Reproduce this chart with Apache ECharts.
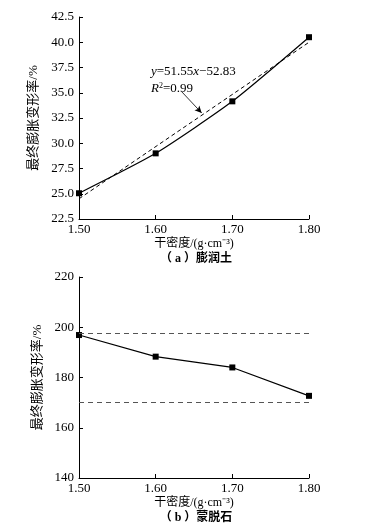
<!DOCTYPE html>
<html><head><meta charset="utf-8">
<script src="https://cdn.jsdelivr.net/npm/echarts@6/dist/echarts.min.js"></script>
<style>html,body{margin:0;padding:0;background:#fff}#c{width:367px;height:532px}</style>
</head><body><div id="c"></div>
<script>
// Data
const density = [1.50, 1.60, 1.70, 1.80];
const bentonite = [25.05, 29.0, 34.15, 40.5];
const bentoniteFit = [[1.50, 24.5], [1.80, 40.0]];
const montmorillonite = [196.9, 188.3, 184.0, 172.7];
const montRefLines = [197.6, 170.0];
const xTicks = [1.50, 1.60, 1.70, 1.80];
const yTicksA = [22.5, 25.0, 27.5, 30.0, 32.5, 35.0, 37.5, 40.0, 42.5];
const yTicksB = [140, 160, 180, 200, 220];
const arrowA = [[1.634, 35.1], [1.66, 33.0]];

const numFont = '"Liberation Serif","DejaVu Serif",serif';
const cjkFont = '"Liberation Serif","Noto Sans CJK SC",serif';
const ink = '#000';

function xAxis(gi) {
  return {
    type: 'value', gridIndex: gi, min: 1.5, max: 1.8, interval: 0.1,
    axisLine: {lineStyle: {color: ink, width: 1}},
    axisTick: {inside: true, length: 4, lineStyle: {color: ink}},
    splitLine: {show: false},
    axisLabel: {color: ink, fontFamily: numFont, fontSize: 13, margin: 4, formatter: v => v.toFixed(2)},
    name: '干密度/(g·cm⁻³)', nameLocation: 'middle', nameGap: 19,
    nameTextStyle: {color: ink, fontFamily: cjkFont, fontSize: 12}
  };
}
function yAxis(gi, ticks, fmt) {
  return {
    type: 'value', gridIndex: gi, min: ticks[0], max: ticks[ticks.length - 1], interval: ticks[1] - ticks[0],
    axisLine: {show: true, lineStyle: {color: ink, width: 1}},
    axisTick: {show: true, inside: true, length: 4, lineStyle: {color: ink}},
    splitLine: {show: false},
    axisLabel: {color: ink, fontFamily: numFont, fontSize: 13, margin: 5, formatter: fmt},
    name: '最终膨胀变形率/%', nameLocation: 'middle', nameGap: 26,
    nameTextStyle: {color: ink, fontFamily: cjkFont, fontSize: 13}
  };
}

const chart = echarts.init(document.getElementById('c'), null, {renderer: 'canvas'});
chart.setOption({
  backgroundColor: '#fff',
  animation: false,
  grid: [
    {left: 79, top: 17, width: 230, height: 202},
    {left: 79, top: 277, width: 230, height: 201}
  ],
  xAxis: [xAxis(0), xAxis(1)],
  yAxis: [yAxis(0, yTicksA, v => v.toFixed(1)), yAxis(1, yTicksB, v => String(v))],
  graphic: [
    {type: 'text', left: 151, top: 65, style: {
      rich: {i: {fontStyle: 'italic', fontFamily: numFont, fontSize: 13, fill: ink},
             n: {fontFamily: numFont, fontSize: 13, fill: ink}},
      text: '{i|y}{n|=51.55}{i|x}{n|−52.83}'}},
    {type: 'text', left: 151, top: 82, style: {
      rich: {i: {fontStyle: 'italic', fontFamily: numFont, fontSize: 13, fill: ink},
             s: {fontFamily: numFont, fontSize: 8, fill: ink, verticalAlign: 'top', padding: [0, 0, 6, 0]},
             n: {fontFamily: numFont, fontSize: 13, fill: ink}},
      text: '{i|R}{s|2}{n|=0.99}'}},
    {type: 'text', x: 196, y: 259, style: {text: '（ a ）膨润土', align: 'center', verticalAlign: 'middle',
      font: 'bold 12px "Liberation Serif","Noto Sans CJK SC",serif', fill: ink}},
    {type: 'text', x: 196, y: 518, style: {text: '（ b ）蒙脱石', align: 'center', verticalAlign: 'middle',
      font: 'bold 12px "Liberation Serif","Noto Sans CJK SC",serif', fill: ink}}
  ],
  series: [
    {type: 'line', xAxisIndex: 0, yAxisIndex: 0, data: bentoniteFit, showSymbol: false,
     lineStyle: {color: ink, width: 1, type: [4, 3]}, z: 2,
     markLine: {silent: true, symbol: ['none', 'arrow'], symbolSize: [5, 7],
       lineStyle: {color: ink, width: 0.8, type: 'solid'}, label: {show: false},
       data: [[{coord: arrowA[0]}, {coord: arrowA[1]}]]}},
    {type: 'line', xAxisIndex: 0, yAxisIndex: 0, data: density.map((d, i) => [d, bentonite[i]]),
     smooth: 0.2, symbol: 'rect', symbolSize: 6, itemStyle: {color: ink},
     lineStyle: {color: ink, width: 1.2}, z: 3},
    {type: 'line', xAxisIndex: 1, yAxisIndex: 1, data: density.map((d, i) => [d, montmorillonite[i]]),
     symbol: 'rect', symbolSize: 6, itemStyle: {color: ink},
     lineStyle: {color: ink, width: 1.2}, z: 3,
     markLine: {silent: true, symbol: ['none', 'none'], label: {show: false},
       lineStyle: {color: '#555', width: 1, type: [5, 4]},
       data: montRefLines.map(v => ({yAxis: v}))}}
  ]
});
</script></body></html>
